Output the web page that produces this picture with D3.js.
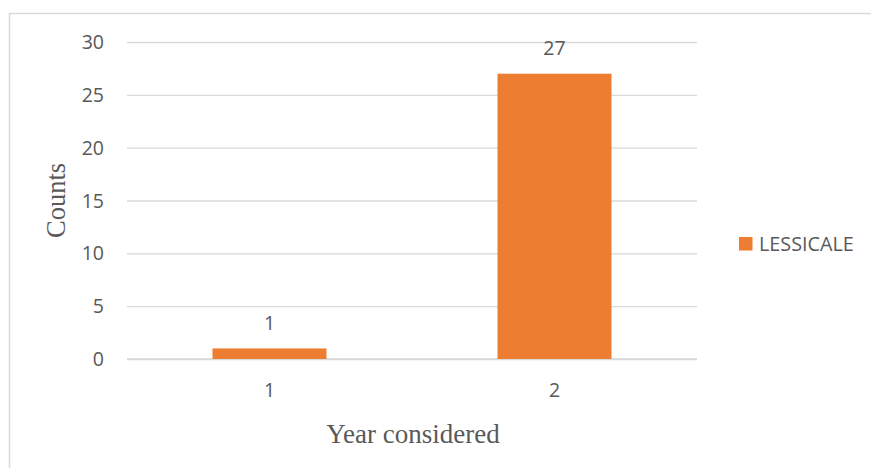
<!DOCTYPE html>
<html>
<head>
<meta charset="utf-8">
<script src="https://cdn.jsdelivr.net/npm/d3@7"></script>
<style>
  html, body { margin: 0; padding: 0; background: #fff; }
  svg { display: block; }
</style>
</head>
<body>
<svg id="chart" width="871" height="468"></svg>
<script>
const categories = ["1", "2"];
const values = [1, 27];
const seriesName = "LESSICALE";
const yTicks = [0, 5, 10, 15, 20, 25, 30];
const xTitle = "Year considered";
const yTitle = "Counts";

const svg = d3.select("#chart");
const W = 871, H = 468;
const plot = { left: 127, right: 697, top: 42, bottom: 359 };
const barColor = "#ED7D31";
const textColor = "#595959";
const gridColor = "#D9D9D9";
const sans = "'Open Sans', 'Noto Sans', sans-serif";
const serif = "'Liberation Serif', 'DejaVu Serif', serif";

svg.append("rect").attr("x", 0).attr("y", 0).attr("width", W).attr("height", H).attr("fill", "#fff");

// chart-area border (left and top visible; right/bottom cut off)
svg.append("path")
  .attr("d", `M9.5,${H} L9.5,13.5 L${W},13.5`)
  .attr("fill", "none").attr("stroke", gridColor).attr("stroke-width", 1.5);

const x = d3.scaleBand().domain(categories).range([plot.left, plot.right])
  .paddingInner(0.6).paddingOuter(0.3);
const y = d3.scaleLinear().domain([0, 30]).range([plot.bottom, plot.top]);

// gridlines + y labels via axis
const yAxis = d3.axisLeft(y).tickValues(yTicks).tickSize(-(plot.right - plot.left)).tickPadding(23);
const gy = svg.append("g").attr("transform", `translate(${plot.left},0)`).call(yAxis);
gy.select(".domain").remove();
gy.selectAll(".tick line").attr("stroke", gridColor).attr("stroke-width", 1.3);
gy.selectAll(".tick text").attr("fill", textColor).attr("font-family", sans)
  .attr("font-size", "19.5px").attr("dy", "0.34em");

// x axis labels
const xAxis = d3.axisBottom(x).tickSize(0).tickPadding(24);
const gx = svg.append("g").attr("transform", `translate(0,${plot.bottom})`).call(xAxis);
gx.select(".domain").remove();
gx.selectAll(".tick text").attr("fill", textColor).attr("font-family", sans)
  .attr("font-size", "19.5px");

// zero line
svg.append("line").attr("x1", plot.left).attr("x2", plot.right)
  .attr("y1", y(0)).attr("y2", y(0)).attr("stroke", gridColor).attr("stroke-width", 1.3);

// bars
svg.selectAll("rect.bar").data(values).enter().append("rect")
  .attr("class", "bar")
  .attr("x", (d, i) => x(categories[i]))
  .attr("width", x.bandwidth())
  .attr("y", d => y(d))
  .attr("height", d => y(0) - y(d))
  .attr("fill", barColor);

// data labels
svg.selectAll("text.lbl").data(values).enter().append("text")
  .attr("class", "lbl")
  .attr("x", (d, i) => x(categories[i]) + x.bandwidth() / 2)
  .attr("y", d => y(d) - 18.5)
  .attr("text-anchor", "middle")
  .attr("fill", textColor).attr("font-family", sans).attr("font-size", "19.5px")
  .text(d => d);

// axis titles
svg.append("text")
  .attr("x", 413).attr("y", 443)
  .attr("text-anchor", "middle").attr("fill", textColor)
  .attr("font-family", serif).attr("font-size", "27px")
  .text(xTitle);

svg.append("text")
  .attr("transform", `translate(65,${(plot.top + plot.bottom) / 2}) rotate(-90)`)
  .attr("text-anchor", "middle").attr("fill", textColor)
  .attr("font-family", serif).attr("font-size", "26.5px")
  .text(yTitle);

// legend
const lg = svg.append("g").attr("transform", "translate(739,237)");
lg.append("rect").attr("width", 13.5).attr("height", 13.5).attr("fill", barColor);
lg.append("text").attr("x", 20).attr("y", 6.75).attr("dy", "0.35em")
  .attr("fill", textColor).attr("font-family", sans).attr("font-size", "19.8px")
  .text(seriesName);
</script>
</body>
</html>
